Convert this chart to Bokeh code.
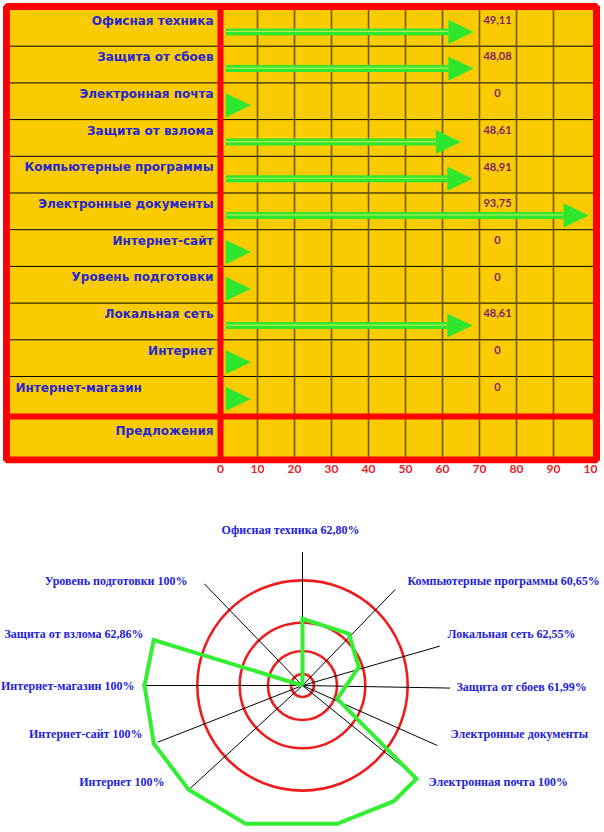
import math
from bokeh.plotting import figure
from bokeh.models import Range1d, LinearAxis, FixedTicker
from bokeh.layouts import column
from bokeh.embed import file_html
from bokeh.resources import INLINE
from bokeh.core.properties import value

# ---------------- data: top chart ----------------
categories = ["Офисная техника", "Защита от сбоев", "Электронная почта", "Защита от взлома",
              "Компьютерные программы", "Электронные документы", "Интернет-сайт",
              "Уровень подготовки", "Локальная сеть", "Интернет", "Интернет-магазин"]
values = [49.11, 48.08, 0, 48.61, 48.91, 93.75, 0, 0, 48.61, 0, 0]
# arrow tips as drawn in the picture, in axis units (0 = head only)
arrow_tip = [68.4, 68.4, 0, 65.0, 68.1, 99.5, 0, 0, 68.1, 0, 0]
extra_row = "Предложения"
x_ticks = [0, 10, 20, 30, 40, 50, 60, 70, 80, 90, 100]
x_tick_labels = ["0", "10", "20", "30", "40", "50", "60", "70", "80", "90", "10"]

# ---------------- data: radar chart ----------------
radar_labels = ["Офисная техника   62,80%", "Компьютерные программы  60,65%",
                "Локальная сеть  62,55%", "Защита от сбоев  61,99%",
                "Электронные документы", "Электронная почта  100%",
                "Интернет 100%", "Интернет-сайт 100%", "Интернет-магазин  100%",
                "Защита от взлома   62,86%", "Уровень подготовки  100%"]
spoke_angle = [90, 46, 16, -1, -24, -39, -137.5, -158.6, 180, 134]
spoke_len = [85, 85, 91, 94, 94, 81, 98, 99, 102, 90]
poly_angle = [90, 90, 48, 18, -21, -39.3, -51.7, -75.9, -112.4, -137.5, -158.6, 180, 163, 163]
poly_value = [0, 42.5, 44.2, 37.7, 23.7, 93.8, 93.9, 90.8, 95.3, 98.3, 101.7, 100.6, 99.1, 0]
ring_radius = [7.3, 22, 40, 67]

# ---------------- styles ----------------
GOLD = "#facb00"
RED = "#ff0000"
BLUE = "#2626d4"
PURPLE = "#7d1d6e"
GREEN = "#2ee62e"
GRIDC = "#6e5a0a"
W = 604

# ---------------- top figure ----------------
U0, PXU = 220.0, 3.7          # px of value 0, px per unit
ROW0, ROWPX = 9.0, 36.7       # px of first row top, px per row
H1, FH1 = 480, 463
p1 = figure(width=W, height=H1,
            x_range=Range1d(-U0 / PXU, (W - U0) / PXU),
            y_range=Range1d((FH1 - ROW0) / ROWPX, -ROW0 / ROWPX),
            output_backend="svg", toolbar_location=None,
            x_axis_location=None, y_axis_location=None,
            min_border_left=0, min_border_right=0, min_border_top=0,
            min_border_bottom=H1 - FH1)
p1.grid.visible = False
p1.outline_line_color = None
p1.background_fill_color = "white"
p1.border_fill_color = "white"

def ux(px):
    return (px - U0) / PXU

def ry(px):
    return (px - ROW0) / ROWPX

L, R, T, B = ux(6), ux(596), ry(6), ry(459.5)
SEP = ry(416)
n = len(categories)

p1.quad(left=L, right=R, top=T, bottom=B, fill_color=GOLD, line_color=None)
# row separators
p1.segment(x0=[L] * (n - 1), x1=[R] * (n - 1), y0=list(range(1, n)), y1=list(range(1, n)),
           line_color="black", line_width=1)
# vertical grid
gx = x_ticks[1:-1]
p1.segment(x0=gx, x1=gx, y0=[T] * len(gx), y1=[B] * len(gx), line_color=GRIDC, line_width=1.6)
# red dividers
p1.segment(x0=[L], x1=[R], y0=[SEP], y1=[SEP], line_color=RED, line_width=6)
p1.segment(x0=[0], x1=[0], y0=[T], y1=[B], line_color=RED, line_width=6)
p1.quad(left=L, right=R, top=T, bottom=B, fill_color=None, line_color=RED, line_width=7)

# arrows
start, head_len, head_h, dy = 1.4, 6.8, 0.33, 0.61
sx0, sx1, sy, hx, hy = [], [], [], [], []
for i, t in enumerate(arrow_tip):
    tip = max(t, start + head_len)
    y = i + dy
    if tip - head_len > start:
        sx0.append(start); sx1.append(tip - head_len); sy.append(y)
    hx.append([tip - head_len, tip, tip - head_len])
    hy.append([y - head_h, y, y + head_h])
p1.segment(x0=sx0, x1=sx1, y0=sy, y1=sy, line_color=GREEN, line_width=7)
p1.segment(x0=sx0, x1=sx1, y0=[v - 0.012 for v in sy], y1=[v - 0.012 for v in sy],
           line_color="#b4ec50", line_width=1.2)
p1.patches(xs=hx, ys=hy, fill_color=GREEN, line_color=None)

# category labels
lab_x = [ux(213)] * n
lab_align = ["right"] * n
lab_x[-1] = ux(15)
lab_align[-1] = "left"
for i, c in enumerate(categories):
    p1.text(x=[lab_x[i]], y=[i + 0.3], text=[c], text_align=lab_align[i], text_baseline="middle",
            text_color=BLUE, text_font=value("DejaVu Sans"), text_font_style="bold",
            text_font_size="12px")
p1.text(x=[ux(213)], y=[ry(430)], text=[extra_row], text_align="right", text_baseline="middle",
        text_color=BLUE, text_font=value("DejaVu Sans"), text_font_style="bold",
        text_font_size="12px")
# value labels
val_txt = [("%.2f" % v).replace(".", ",") if v else "0" for v in values]
p1.text(x=[ux(497)] * n, y=[i + 0.28 for i in range(n)], text=val_txt, text_align="center",
        text_baseline="middle", text_color=PURPLE, text_font=value("Lato"),
        text_font_style="bold", text_font_size="11px")

ax = LinearAxis(ticker=FixedTicker(ticks=x_ticks),
                major_label_overrides={t: s for t, s in zip(x_ticks, x_tick_labels)},
                axis_line_color=None, major_tick_line_color=None, minor_tick_line_color=None,
                major_tick_out=0, major_tick_in=0, major_label_standoff=1,
                major_label_text_color="#e8202a", major_label_text_font="Lato",
                major_label_text_font_style="bold", major_label_text_font_size="12px")
p1.add_layout(ax, "below")

# ---------------- bottom figure (radar) ----------------
H2 = 352
CX, CY, PXP = 302.0, 205.0, 1.57
p2 = figure(width=W, height=H2,
            x_range=Range1d(-CX / PXP, (W - CX) / PXP),
            y_range=Range1d(-(H2 - CY) / PXP, CY / PXP),
            output_backend="svg", toolbar_location=None,
            x_axis_location=None, y_axis_location=None,
            min_border=0)
p2.grid.visible = False
p2.outline_line_color = None

def pol(a, r):
    return r * math.cos(math.radians(a)), r * math.sin(math.radians(a))

p2.circle(x=[0] * len(ring_radius), y=[0] * len(ring_radius), radius=ring_radius,
          fill_color=None, line_color="#ee1c1c", line_width=2.6)
ex = [pol(a, r)[0] for a, r in zip(spoke_angle, spoke_len)]
ey = [pol(a, r)[1] for a, r in zip(spoke_angle, spoke_len)]
p2.segment(x0=[0] * len(ex), y0=[0] * len(ey), x1=ex, y1=ey, line_color="black", line_width=1)
px_ = [pol(a, r)[0] for a, r in zip(poly_angle, poly_value)]
py_ = [pol(a, r)[1] for a, r in zip(poly_angle, poly_value)]
p2.line(px_, py_, line_color="#33ee33", line_width=4, line_join="miter")

def rx(px):
    return (px - CX) / PXP

def rv(py):
    return (CY + 480 - py) / PXP

lab_pos = [(rx(293), rv(529), "center"), (rx(407), rv(580), "left"), (rx(447), rv(633), "left"),
           (rx(456), rv(686), "left"), (rx(450), rv(733), "left"), (rx(428), rv(781), "left"),
           (rx(164), rv(781), "right"), (rx(142), rv(733), "right"), (rx(137), rv(685), "right"),
           (rx(149), rv(633), "right"), (rx(190), rv(580), "right")]
for (x, y, al), t in zip(lab_pos, radar_labels):
    p2.text(x=[x], y=[y], text=[t], text_align=al, text_baseline="middle", text_color="#2222dd",
            text_font=value("Liberation Serif"), text_font_style="bold", text_font_size="12px")

layout = column(p1, p2)
open("out.html", "w").write(file_html(layout, INLINE))
